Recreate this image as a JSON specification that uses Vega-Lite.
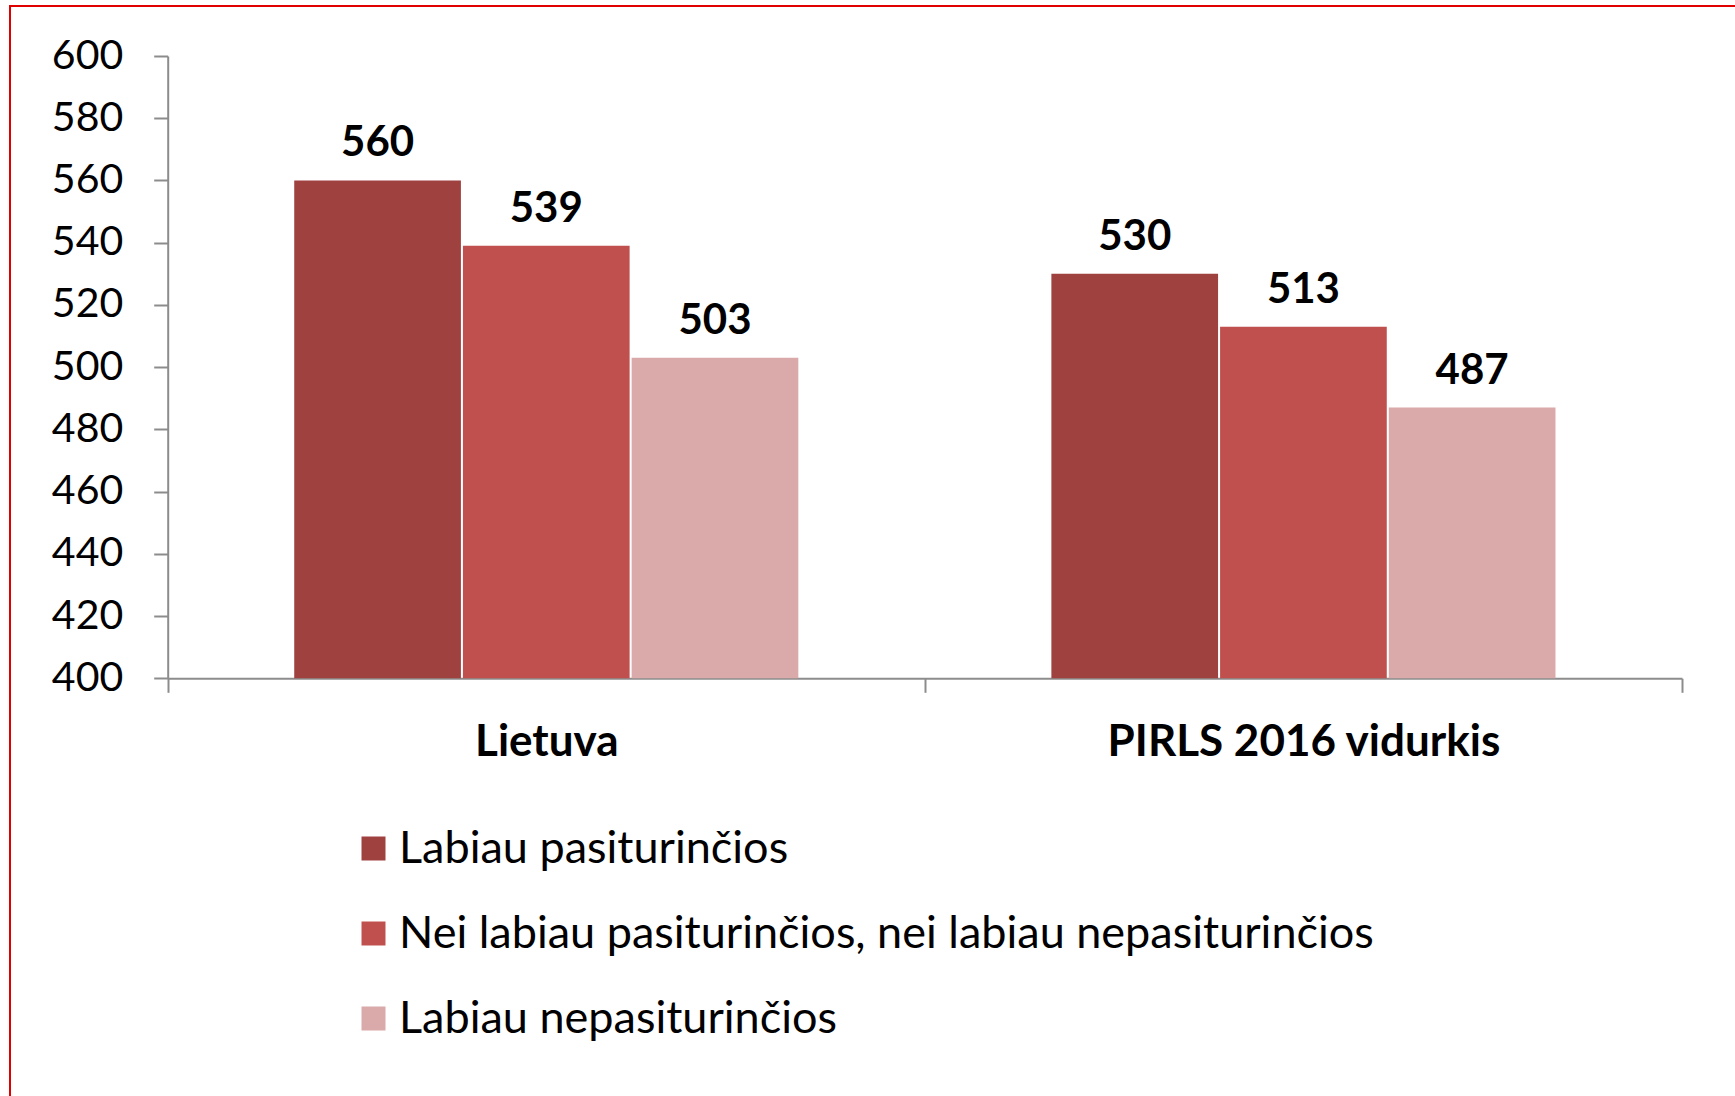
{
  "$schema": "https://vega.github.io/schema/vega-lite/v6.json",
  "autosize": {"type": "none"},
  "padding": {"left": 10, "top": 6, "right": -2, "bottom": -2},
  "width": 1727,
  "height": 1092,
  "background": "white",
  "config": {
    "view": {"stroke": "#E00000", "strokeWidth": 2},
    "font": "Lato"
  },
  "data": {
    "values": [
      {"group": "Lietuva", "cat": "Labiau pasiturinčios", "value": 560},
      {"group": "Lietuva", "cat": "Nei labiau pasiturinčios, nei labiau nepasiturinčios", "value": 539},
      {"group": "Lietuva", "cat": "Labiau nepasiturinčios", "value": 503},
      {"group": "PIRLS 2016 vidurkis", "cat": "Labiau pasiturinčios", "value": 530},
      {"group": "PIRLS 2016 vidurkis", "cat": "Nei labiau pasiturinčios, nei labiau nepasiturinčios", "value": 513},
      {"group": "PIRLS 2016 vidurkis", "cat": "Labiau nepasiturinčios", "value": 487}
    ]
  },
  "encoding": {
    "x": {
      "field": "group",
      "type": "nominal",
      "sort": ["Lietuva", "PIRLS 2016 vidurkis"],
      "scale": {"range": [157.7, 1672], "paddingInner": 0, "paddingOuter": 0},
      "axis": {
        "title": null,
        "orient": "bottom",
        "offset": -419.7,
        "tickBand": "extent",
        "tickSize": 14,
        "tickColor": "#8C8C8C",
        "tickWidth": 2,
        "domainColor": "#8C8C8C",
        "domainWidth": 2,
        "labelFontSize": 44,
        "labelFontWeight": "bold",
        "labelColor": "black",
        "labelPadding": 28,
        "labelAngle": 0,
        "labelLimit": 0,
        "grid": false
      }
    },
    "xOffset": {
      "field": "cat",
      "type": "nominal",
      "sort": ["Labiau pasiturinčios", "Nei labiau pasiturinčios, nei labiau nepasiturinčios", "Labiau nepasiturinčios"],
      "scale": {"paddingInner": 0.012, "paddingOuter": 0.75}
    },
    "y": {
      "field": "value",
      "type": "quantitative",
      "scale": {"domain": [400, 600], "range": [672.3, 50], "zero": false, "nice": false},
      "axis": {
        "title": null,
        "values": [400, 420, 440, 460, 480, 500, 520, 540, 560, 580, 600],
        "offset": -157.7,
        "tickSize": 14,
        "tickColor": "#8C8C8C",
        "tickWidth": 2,
        "domainColor": "#8C8C8C",
        "domainWidth": 2,
        "labelFontSize": 41,
        "labelColor": "black",
        "labelPadding": 31,
        "grid": false
      }
    }
  },
  "layer": [
    {
      "mark": {"type": "bar"},
      "encoding": {
        "y2": {"datum": 400},
        "color": {
          "field": "cat",
          "type": "nominal",
          "sort": ["Labiau pasiturinčios", "Nei labiau pasiturinčios, nei labiau nepasiturinčios", "Labiau nepasiturinčios"],
          "scale": {
            "domain": ["Labiau pasiturinčios", "Nei labiau pasiturinčios, nei labiau nepasiturinčios", "Labiau nepasiturinčios"],
            "range": ["#9E413F", "#C0504D", "#DAA9A9"]
          },
          "legend": {
            "title": null,
            "orient": "none",
            "legendX": 341,
            "legendY": 820,
            "direction": "vertical",
            "padding": 0,
            "symbolType": "square",
            "symbolSize": 576,
            "symbolStrokeWidth": 0,
            "labelFontSize": 45,
            "labelColor": "black",
            "labelOffset": 3,
            "labelLimit": 0,
            "rowPadding": 39
          }
        }
      }
    },
    {
      "mark": {"type": "text", "baseline": "alphabetic", "dy": -24, "fontSize": 42, "fontWeight": "bold", "color": "black"},
      "encoding": {
        "text": {"field": "value", "type": "quantitative"}
      }
    }
  ]
}
